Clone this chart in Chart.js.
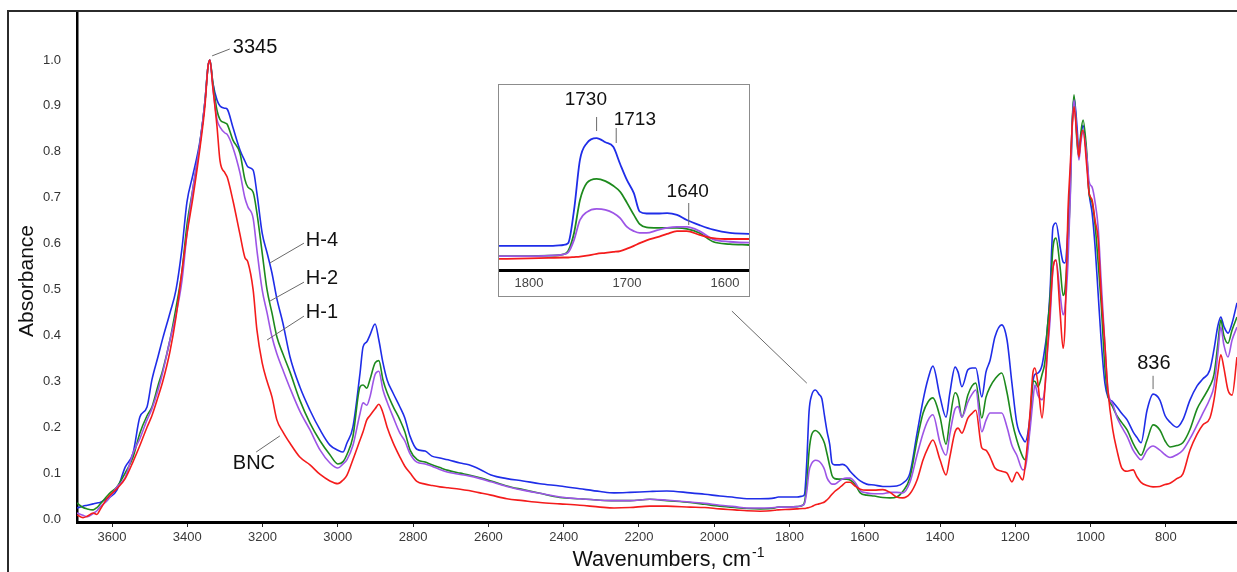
<!DOCTYPE html>
<html>
<head>
<meta charset="utf-8">
<script src="https://cdn.jsdelivr.net/npm/chart.js@4.4.1/dist/chart.umd.min.js"></script>
<style>
html,body{margin:0;padding:0;background:#fff;overflow:hidden;width:1237px;height:572px;}
#frame{position:absolute;left:7px;top:10px;width:1300px;height:700px;border-top:2px solid #2b2b2b;border-left:2px solid #2b2b2b;}
#main{position:absolute;left:0;top:0;}
#insetBox{position:absolute;left:498px;top:84px;width:252px;height:213px;box-sizing:border-box;border:1px solid #8c8c8c;background:#fff;}
#inset{position:absolute;left:0;top:0;}
</style>
</head>
<body>
<div id="frame"></div>
<canvas id="main" width="1237" height="572"></canvas>
<div id="insetBox"><canvas id="inset" width="250" height="211"></canvas></div>
<script>
// ---------------- DATA ----------------
const wavenumbers = [
3693,3677,3666,3650,3640,3632,3613,3605,3587,3565,
3544,3526,3507,3494,3478,3465,3446,3430,3414,3401,
3385,3366,3353,3345,3340,3332,3321,3313,3300,3294,
3279,3260,3247,3239,3225,3215,3201,3188,3175,3162,
3146,3127,3101,3074,3047,3021,3000,2986,2976,2960,
2941,2933,2923,2915,2901,2891,2880,2869,2853,2835,
2822,2808,2790,2768,2750,2729,2707,2675,2652,2622,
2593,2551,2508,2463,2410,2357,2303,2266,2224,2171,
2126,2064,2025,1985,1945,1913,1878,1839,1830,1800,
1780,1765,1760,1754,1748,1741,1731,1722,1714,1707,
1700,1693,1687,1680,1669,1659,1649,1639,1626,1612,
1595,1575,1552,1533,1515,1499,1480,1461,1445,1432,
1419,1400,1384,1374,1360,1352,1342,1326,1315,1305,
1289,1278,1267,1254,1236,1222,1209,1196,1180,1174,
1161,1153,1148,1140,1129,1121,1116,1108,1100,1092,
1081,1073,1068,1060,1054,1049,1044,1036,1031,1026,
1020,1010,1004,996,988,980,972,962,954,941,
930,917,903,887,877,866,850,834,816,802,
789,771,755,736,717,702,683,672,662,654,
646,635,624,611];

const absH4 = [
.024,.028,.030,.033,.035,.036,.045,.048,.063,.113,
.144,.222,.244,.303,.353,.394,.449,.499,.590,.690,
.750,.825,.910,.985,1.000,.950,.913,.900,.895,.893,
.854,.804,.780,.767,.760,.710,.623,.580,.536,.480,
.427,.353,.288,.237,.194,.161,.150,.146,.165,.200,
.318,.375,.386,.400,.425,.390,.340,.303,.274,.244,
.220,.180,.152,.148,.137,.133,.129,.122,.118,.108,
.096,.088,.083,.077,.072,.066,.060,.057,.058,.060,
.061,.057,.054,.050,.047,.044,.044,.046,.048,.048,
.048,.050,.054,.126,.234,.270,.281,.272,.262,.225,
.190,.162,.122,.118,.118,.119,.115,.104,.093,.083,
.076,.074,.071,.071,.072,.078,.100,.187,.259,.305,
.333,.266,.222,.274,.331,.320,.288,.325,.329,.329,
.266,.320,.346,.397,.423,.390,.296,.209,.175,.168,
.222,.300,.315,.318,.335,.375,.405,.490,.636,.645,
.593,.560,.558,.636,.745,.860,.919,.854,.797,.832,
.858,.782,.710,.667,.593,.492,.390,.296,.266,.255,
.244,.230,.216,.190,.178,.166,.237,.272,.259,.225,
.211,.200,.216,.259,.290,.305,.325,.370,.420,.440,
.420,.405,.427,.471];

const absH2 = [
.035,.025,.022,.020,.025,.032,.050,.057,.070,.100,
.135,.187,.225,.244,.290,.325,.390,.460,.540,.640,
.720,.820,.910,.985,1.000,.950,.890,.870,.863,.860,
.826,.797,.740,.723,.712,.667,.580,.499,.449,.397,
.360,.320,.259,.209,.170,.140,.120,.125,.140,.179,
.288,.292,.285,.303,.340,.345,.303,.275,.245,.216,
.190,.150,.130,.124,.118,.112,.106,.100,.096,.090,
.083,.072,.064,.056,.047,.044,.041,.040,.040,.043,
.040,.036,.032,.028,.025,.023,.022,.024,.026,.026,
.027,.030,.037,.076,.147,.184,.193,.188,.178,.165,
.141,.115,.095,.088,.087,.087,.087,.085,.076,.057,
.052,.050,.047,.046,.048,.060,.090,.172,.231,.255,
.264,.222,.163,.215,.275,.265,.222,.270,.290,.296,
.220,.265,.288,.305,.318,.275,.215,.172,.135,.129,
.209,.300,.300,.288,.315,.345,.405,.477,.590,.612,
.549,.487,.500,.600,.710,.860,.924,.819,.789,.840,
.869,.797,.710,.690,.640,.560,.470,.330,.270,.244,
.225,.210,.194,.165,.150,.139,.172,.205,.194,.170,
.157,.160,.166,.195,.240,.262,.290,.315,.380,.434,
.400,.383,.412,.440];

const absH1 = [
.013,.008,.005,.012,.018,.026,.040,.048,.070,.090,
.144,.175,.216,.240,.280,.320,.390,.445,.520,.620,
.720,.820,.910,.985,1.000,.940,.870,.854,.841,.838,
.810,.754,.700,.680,.655,.586,.499,.449,.397,.360,
.325,.285,.235,.194,.150,.122,.111,.120,.129,.160,
.230,.253,.248,.265,.315,.322,.281,.255,.222,.187,
.170,.142,.124,.120,.115,.108,.102,.097,.094,.088,
.081,.071,.063,.056,.048,.044,.041,.040,.040,.043,
.041,.037,.034,.030,.027,.024,.024,.025,.026,.026,
.027,.030,.034,.061,.104,.121,.128,.126,.119,.108,
.089,.080,.076,.076,.082,.087,.089,.089,.080,.062,
.057,.055,.055,.058,.058,.057,.080,.140,.187,.215,
.227,.166,.139,.185,.240,.245,.222,.255,.272,.281,
.190,.215,.231,.231,.231,.200,.160,.139,.107,.110,
.194,.260,.292,.270,.260,.288,.350,.430,.545,.564,
.490,.445,.460,.560,.700,.850,.913,.830,.782,.820,
.843,.790,.735,.723,.690,.636,.520,.380,.281,.250,
.222,.200,.180,.150,.138,.129,.150,.159,.150,.140,
.134,.140,.150,.175,.205,.230,.262,.290,.360,.418,
.380,.353,.390,.418];

const absBNC = [
.009,.003,.006,.013,.010,.020,.045,.052,.066,.088,
.125,.160,.200,.225,.265,.300,.365,.440,.540,.620,
.700,.810,.900,.985,1.000,.940,.855,.780,.754,.745,
.695,.620,.570,.560,.499,.412,.340,.300,.266,.216,
.190,.165,.135,.118,.097,.083,.077,.085,.095,.129,
.172,.190,.216,.225,.240,.250,.231,.200,.166,.135,
.115,.100,.082,.076,.073,.070,.068,.065,.062,.057,
.052,.044,.040,.036,.033,.030,.026,.024,.025,.028,
.028,.026,.025,.022,.020,.018,.017,.019,.020,.021,
.022,.023,.023,.024,.025,.027,.031,.033,.035,.037,
.042,.048,.054,.060,.067,.074,.080,.080,.072,.065,
.063,.063,.064,.058,.048,.046,.055,.085,.129,.155,
.172,.129,.096,.135,.190,.198,.187,.220,.230,.237,
.155,.150,.135,.111,.104,.100,.081,.102,.085,.115,
.230,.320,.329,.296,.220,.290,.353,.450,.545,.564,
.450,.372,.420,.673,.770,.854,.898,.830,.789,.830,
.847,.767,.710,.695,.650,.610,.492,.380,.281,.194,
.150,.111,.104,.107,.092,.080,.073,.070,.071,.075,
.078,.088,.098,.150,.185,.205,.220,.260,.318,.358,
.330,.281,.270,.353];

const seriesNames = ['BNC','H-1','H-2','H-4'];
const xTickValues = [3600,3400,3200,3000,2800,2600,2400,2200,2000,1800,1600,1400,1200,1000,800];
const yTickValues = [0,0.1,0.2,0.3,0.4,0.5,0.6,0.7,0.8,0.9,1.0];
const insetTickValues = [1800,1700,1600];

// ---------------- BUILD ----------------
const FONT = '"Liberation Sans", Arial, Helvetica, sans-serif';
const seriesValues = [absBNC, absH1, absH2, absH4];
const seriesColors = ['#f41c1c', '#9d55e6', '#1d8a1d', '#1f2de8'];

function makeDatasets(width){
  return seriesNames.map((name, k) => ({
    label: name,
    data: wavenumbers.map((w, i) => ({x: w, y: seriesValues[k][i]})),
    borderColor: seriesColors[k],
    borderWidth: width,
    pointRadius: 0,
    fill: false,
    cubicInterpolationMode: 'monotone'
  }));
}

function noPad(s){ s.paddingTop = 0; s.paddingBottom = 0; s.paddingLeft = 0; s.paddingRight = 0; }

// annotation anchors in data coordinates (wavenumber, absorbance)
const mainNotes = [
  {text:'3345', x:3279, y:1.028, align:'left',  line:[3334,1.009,3287,1.024]},
  {text:'H-4',  x:3085, y:0.606, align:'left',  line:[3180,0.558,3090,0.601]},
  {text:'H-2',  x:3085, y:0.525, align:'left',  line:[3180,0.475,3090,0.516]},
  {text:'H-1',  x:3085, y:0.449, align:'left',  line:[3188,0.390,3090,0.442]},
  {text:'BNC',  x:3279, y:0.122, align:'left',  line:[3217,0.146,3154,0.181]},
  {text:'836',  x:832,  y:0.338, align:'center',line:[834,0.312,834,0.283]},
  {text:'',     x:0,    y:0,     align:'left',  line:[1953,0.453,1754,0.296]}
];
const insetNotes = [
  {text:'1730', x:1742, y:0.363, line:[1731,0.3265,1731,0.2962]},
  {text:'1713', x:1692, y:0.320, line:[1711,0.3027,1711,0.2703]},
  {text:'1640', x:1638, y:0.1645, line:[1637,0.1407,1637,0.0932]}
];

function drawNotes(chart, notes, size){
  const {ctx, scales:{x, y}} = chart;
  ctx.save();
  ctx.strokeStyle = '#6a6a6a';
  ctx.lineWidth = 1;
  notes.forEach(n => {
    const l = n.line;
    ctx.beginPath();
    ctx.moveTo(x.getPixelForValue(l[0]), y.getPixelForValue(l[1]));
    ctx.lineTo(x.getPixelForValue(l[2]), y.getPixelForValue(l[3]));
    ctx.stroke();
    if (n.text) {
      ctx.fillStyle = '#111';
      ctx.font = size + 'px ' + FONT;
      ctx.textAlign = n.align || 'center';
      ctx.textBaseline = 'middle';
      ctx.fillText(n.text, x.getPixelForValue(n.x), y.getPixelForValue(n.y));
    }
  });
  ctx.restore();
}

const mainNotesPlugin = {
  id: 'mainNotes',
  afterDraw(chart){
    drawNotes(chart, mainNotes, 20);
    const ctx = chart.ctx;
    ctx.save();
    ctx.fillStyle = '#111';
    // y axis title
    ctx.font = '21px ' + FONT;
    ctx.translate(27, 281);
    ctx.rotate(-Math.PI/2);
    ctx.textAlign = 'center';
    ctx.textBaseline = 'middle';
    ctx.fillText('Absorbance', 0, 0);
    ctx.restore();
    // x axis title with superscript
    ctx.save();
    ctx.fillStyle = '#111';
    ctx.textBaseline = 'alphabetic';
    ctx.textAlign = 'left';
    ctx.font = '21.5px ' + FONT;
    const main = 'Wavenumbers, cm';
    const w1 = ctx.measureText(main).width;
    ctx.font = '14px ' + FONT;
    const sup = '-1';
    const w2 = ctx.measureText(sup).width;
    const x0 = 668 - (w1 + w2) / 2;
    ctx.font = '21.5px ' + FONT;
    ctx.fillText(main, x0, 566);
    ctx.font = '14px ' + FONT;
    ctx.fillText(sup, x0 + w1 + 1, 557);
    ctx.restore();
  }
};

const insetNotesPlugin = {
  id: 'insetNotes',
  afterDraw(chart){ drawNotes(chart, insetNotes, 19); }
};

new Chart(document.getElementById('main'), {
  type: 'line',
  data: {datasets: makeDatasets(1.6)},
  options: {
    responsive: false,
    animation: false,
    events: [],
    layout: {padding: {top: 13, left: 0, right: 0, bottom: 0}},
    plugins: {legend: {display: false}, tooltip: {enabled: false}},
    scales: {
      x: {
        type: 'linear', reverse: true, min: 611, max: 3693,
        afterFit(s){ s.height = 50; noPad(s); },
        afterBuildTicks(s){ s.ticks = xTickValues.map(v => ({value: v})); },
        grid: {display: true, drawOnChartArea: false, drawTicks: true, tickLength: 5, color: '#222'},
        border: {display: true, color: '#000', width: 3},
        ticks: {color: '#3a3a3a', font: {family: FONT, size: 13}, padding: 3, maxRotation: 0, autoSkip: false,
                callback: v => String(v)}
      },
      y: {
        type: 'linear', min: -0.0065, max: 1.1024,
        afterFit(s){ s.width = 77; noPad(s); },
        afterBuildTicks(s){ s.ticks = yTickValues.map(v => ({value: v})); },
        grid: {display: false, drawTicks: false, tickLength: 0},
        border: {display: true, color: '#000', width: 2.5},
        ticks: {color: '#333', font: {family: FONT, size: 13}, padding: 16, autoSkip: false,
                callback: v => Number(v).toFixed(1)}
      }
    }
  },
  plugins: [mainNotesPlugin]
});

new Chart(document.getElementById('inset'), {
  type: 'line',
  data: {datasets: makeDatasets(1.8)},
  options: {
    responsive: false,
    animation: false,
    events: [],
    layout: {padding: 0},
    plugins: {legend: {display: false}, tooltip: {enabled: false}},
    scales: {
      x: {
        type: 'linear', reverse: true, min: 1575.5, max: 1830.6,
        afterFit(s){ s.height = 26; noPad(s); },
        afterBuildTicks(s){ s.ticks = insetTickValues.map(v => ({value: v})); },
        grid: {display: false, drawTicks: false, tickLength: 0},
        border: {display: true, color: '#000', width: 3},
        ticks: {color: '#444', font: {family: FONT, size: 13}, padding: 6, maxRotation: 0, autoSkip: false,
                callback: v => String(v)}
      },
      y: {type: 'linear', display: false, min: -0.004, max: 0.3956}
    }
  },
  plugins: [insetNotesPlugin]
});
</script>
</body>
</html>
